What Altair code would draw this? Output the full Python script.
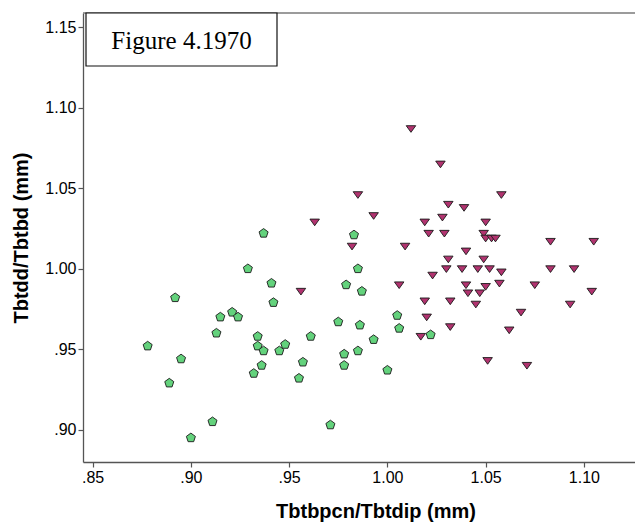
import altair as alt
import pandas as pd

# Group A (green pentagons)
green_x = [0.878, 0.889, 0.892, 0.895, 0.913, 0.915, 0.921, 0.924, 0.929, 0.932, 0.934, 0.934,
           0.937, 0.936, 0.937, 0.941, 0.942, 0.945, 0.948, 0.957, 0.955, 0.961,
           0.900, 0.911, 0.971,
           0.983, 0.985, 0.979, 0.987, 1.005, 0.975, 0.986, 1.006, 1.022, 0.993, 0.985,
           0.978, 0.978, 1.000]
green_y = [0.952, 0.929, 0.982, 0.944, 0.960, 0.970, 0.973, 0.970, 1.000, 0.935, 0.958, 0.952,
           0.949, 0.940, 1.022, 0.991, 0.979, 0.949, 0.953, 0.942, 0.932, 0.958,
           0.895, 0.905, 0.903,
           1.021, 1.000, 0.990, 0.986, 0.971, 0.967, 0.965, 0.963, 0.959, 0.956, 0.949,
           0.947, 0.940, 0.937]

# Group B (red down-triangles)
red_x = [0.963, 0.956,
         1.031, 1.039, 0.993, 1.019, 1.028, 1.050, 1.021, 1.029, 1.049, 1.050, 1.053, 1.055, 1.083, 1.105,
         0.982, 1.009, 1.040, 1.031, 1.049,
         1.030, 1.038, 1.046, 1.052, 1.058, 1.083, 1.095,
         1.023, 1.006, 1.040, 1.050, 1.057, 1.075,
         1.041, 1.047, 1.104,
         1.019, 1.032, 1.045, 1.093, 1.068,
         1.020, 1.032, 1.062, 1.017, 1.051, 1.071,
         1.012, 1.027, 0.985, 1.058]
red_y = [1.029, 0.986,
         1.040, 1.038, 1.033, 1.029, 1.032, 1.029, 1.022, 1.022, 1.022, 1.019, 1.019, 1.019, 1.017, 1.017,
         1.014, 1.014, 1.011, 1.006, 1.006,
         1.000, 1.000, 1.000, 1.000, 0.998, 1.000, 1.000,
         0.996, 0.990, 0.990, 0.989, 0.991, 0.990,
         0.985, 0.985, 0.986,
         0.980, 0.980, 0.978, 0.978, 0.973,
         0.970, 0.964, 0.962, 0.958, 0.943, 0.940,
         1.087, 1.065, 1.046, 1.046]

x_ticks = [0.85, 0.90, 0.95, 1.00, 1.05, 1.10]
y_ticks = [0.90, 0.95, 1.00, 1.05, 1.10, 1.15]
x_title = "Tbtbpcn/Tbtdip (mm)"
y_title = "Tbtdd/Tbtbd (mm)"
fig_label = "Figure 4.1970"

df = pd.DataFrame({
    "x": green_x + red_x,
    "y": green_y + red_y,
    "g": ["A"] * len(green_x) + ["B"] * len(red_x),
})

W, H = 552, 449
pent = "M0,-1L0.951,-0.309L0.588,0.809L-0.588,0.809L-0.951,-0.309Z"
tri = "M-1,-0.62L1,-0.62L0,0.78Z"

label_expr = "datum.value < 1 ? substring(format(datum.value, '.2f'), 1) : format(datum.value, '.2f')"

points = alt.Chart(df).mark_point(filled=True, opacity=1, stroke="#1a1a1a", strokeWidth=0.9, size=90).encode(
    x=alt.X("x:Q", scale=alt.Scale(domain=[0.8451, 1.126], nice=False, zero=False),
            axis=alt.Axis(values=x_ticks, labelExpr=label_expr, title=x_title, grid=False,
                          titleX=292.5, titleY=55, titleAlign="center", titleBaseline="alphabetic")),
    y=alt.Y("y:Q", scale=alt.Scale(domain=[0.880, 1.1588], nice=False, zero=False),
            axis=alt.Axis(values=y_ticks, labelExpr=label_expr, title=y_title, grid=False,
                          titleX=-62, titleY=224.5, titleAlign="center", titleBaseline="middle", titleAngle=-90)),
    shape=alt.Shape("g:N", scale=alt.Scale(domain=["A", "B"], range=[pent, tri]), legend=None),
    fill=alt.Fill("g:N", scale=alt.Scale(domain=["A", "B"], range=["#63d27c", "#b1336f"]), legend=None),
)

one = pd.DataFrame({"a": [0]})
top_line = alt.Chart(one).mark_rule(color="#7a7a7a", strokeWidth=1.5).encode(
    x=alt.value(0), x2=alt.value(W), y=alt.value(0)
)
box = alt.Chart(one).mark_rect(fill="white", stroke="#111111", strokeWidth=1.2).encode(
    x=alt.value(3), x2=alt.value(194), y=alt.value(0), y2=alt.value(53)
)
label = alt.Chart(one).mark_text(font="Liberation Serif", fontSize=25, color="black",
                                 align="center", baseline="alphabetic").encode(
    x=alt.value(98.5), y=alt.value(35.6), text=alt.value(fig_label)
)

chart = alt.layer(points, top_line, box, label).properties(
    width=W, height=H,
    autosize=alt.AutoSizeParams(type="none"),
    padding={"left": 75, "top": 5, "right": 0, "bottom": 64},
).configure_view(stroke=None).configure_axis(
    domainColor="#555555", domainWidth=1.3, tickColor="#555555", tickSize=5, tickWidth=1.2,
    labelFont="Liberation Sans", labelFontSize=16, labelColor="black", labelPadding=2,
    titleFont="Liberation Sans", titleFontSize=20, titleFontWeight="bold", titleColor="black",
)

chart.save("out.html", embed_options={"renderer": "svg", "actions": False})
